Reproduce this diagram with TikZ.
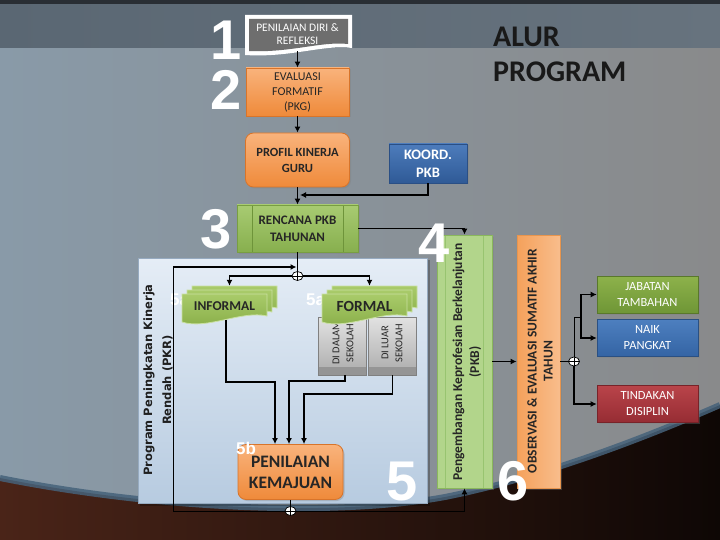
\documentclass[tikz,border=0pt]{standalone}
\usepackage{fontspec}
\setmainfont{Carlito}
\newfontfamily\djvfont{DejaVu Sans}
\newfontfamily\numfont{Liberation Sans}
\usetikzlibrary{arrows.meta,calc,shapes.geometric,shadows}
\definecolor{txtd}{HTML}{262626}
\definecolor{orA}{HTML}{F9B37C}
\definecolor{orB}{HTML}{EF8A3A}
\definecolor{orC}{HTML}{D8742A}
\definecolor{blA}{HTML}{4D7CBC}
\definecolor{blB}{HTML}{2F5A96}
\definecolor{blC}{HTML}{2A4F85}
\definecolor{gnA}{HTML}{A8CB72}
\definecolor{gnB}{HTML}{87AF4E}
\definecolor{gnC}{HTML}{789E42}
\definecolor{gnL}{HTML}{6E943A}
\definecolor{jabA}{HTML}{8DB24B}
\definecolor{jabB}{HTML}{6F9636}
\definecolor{nkA}{HTML}{4D7FBF}
\definecolor{nkB}{HTML}{3464A4}
\definecolor{tdA}{HTML}{B9444A}
\definecolor{tdB}{HTML}{962C33}
\definecolor{pkbF}{HTML}{B2D58B}
\definecolor{pkbD}{HTML}{8AB85C}
\definecolor{pkbL}{HTML}{98C470}
\definecolor{obA}{HTML}{F5A15B}
\definecolor{obB}{HTML}{F8BD8C}
\definecolor{obC}{HTML}{E8954E}
\definecolor{dcT}{HTML}{A9CB6A}
\definecolor{dcB}{HTML}{86AC46}
\definecolor{dcE}{HTML}{C9E0A0}
\definecolor{gyT}{HTML}{E2E2E2}
\definecolor{gyB}{HTML}{ABABAB}
\definecolor{gyE}{HTML}{808080}
\definecolor{gyBand}{HTML}{959595}
\definecolor{pdF}{HTML}{6E6E6E}
\definecolor{pkrT}{HTML}{E5EDF6}
\definecolor{pkrB}{HTML}{B7CBE0}
\definecolor{pkrE}{HTML}{96AAC0}
\definecolor{bgL}{HTML}{899AA8}
\definecolor{bgM}{HTML}{AAB9C5}
\definecolor{bgR}{HTML}{898A8B}
\definecolor{topA}{HTML}{5A6773}
\definecolor{topB}{HTML}{67737E}
\definecolor{brL}{HTML}{4A2418}
\definecolor{brM}{HTML}{8E4C38}
\definecolor{brR}{HTML}{0E0705}
\definecolor{edgeB}{HTML}{46627A}
\begin{document}
\begin{tikzpicture}[x=1pt,y=-1pt,
  arr/.style={line width=1.6pt,-{Latex[length=6pt,width=6pt]}},
  ln/.style={line width=1.6pt},
  tarr/.style={line width=1pt,-{Latex[length=6pt,width=6pt]}},
  tln/.style={line width=1pt},
  shd/.style={drop shadow={shadow xshift=1.5pt,shadow yshift=-1.5pt,opacity=0.35}},
  box/.style={rectangle, inner sep=1pt, align=center, text=txtd},
  orng/.style={box, shd, top color=orA, bottom color=orB, draw=orC, line width=0.8pt},
  grn/.style={box, shd, top color=gnA, bottom color=gnB, draw=gnC, line width=0.8pt},
  colbox/.style={box, shd, text=white, minimum width=101pt, minimum height=37pt, font=\fontsize{12.5}{16}\selectfont},
  gray/.style={rectangle, top color=gyT, bottom color=gyB, draw=gyE, line width=0.6pt, minimum width=48pt, minimum height=58pt,
     path picture={\fill[gyBand] ($(path picture bounding box.south west)+(0,-8)$) rectangle (path picture bounding box.south east);}},
  junc/.style={ellipse, draw=black, fill=white, line width=0.7pt, minimum width=11pt, minimum height=9pt, inner sep=0pt,
     path picture={\draw[line width=0.7pt] (path picture bounding box.north) -- (path picture bounding box.south) (path picture bounding box.west) -- (path picture bounding box.east);}},
  num/.style={text=white, inner sep=0pt, anchor=base, text height=40pt, text depth=0pt, font=\numfont\bfseries\fontsize{56}{56}\selectfont},
  lbl/.style={text=white, inner sep=0pt, anchor=base west, text height=12pt, text depth=0pt, font=\numfont\bfseries\fontsize{17}{17}\selectfont},
  docst/.style={draw=dcE, line width=0.8pt, top color=dcT, bottom color=dcB},
  mdoc/.pic={\foreach \myoff in {10,5,0}{\path[docst] (\myoff,-0.8*\myoff) -- ++(85,0) -- ++(0,22) .. controls +(-25,-6) and +(25,8) .. ++(-85,6) -- cycle;}},
]
\useasboundingbox (0,0) rectangle (720,540);
% background
\shade[left color=bgL, middle color=bgM, right color=bgR] (0,0) rectangle (720,540);
\shade[left color=topA, right color=topB] (0,0) rectangle (720,48);
\fill[black!55!topA] (0,0) rectangle (720,4);
\shade[left color=brL, middle color=brM, right color=brR] (0,478) .. controls (150,508) and (330,518) .. (445,497) .. controls (540,478) and (640,440) .. (720,405) -- (720,540) -- (0,540) -- cycle;
\draw[edgeB, line width=6pt, opacity=0.85] (0,478) .. controls (150,508) and (330,518) .. (445,497) .. controls (540,478) and (640,440) .. (720,405);

% title
\node[anchor=north west, inner sep=0pt, align=left, text=black!90, font=\bfseries\fontsize{30}{35}\selectfont] (title) at (493,27) {ALUR\\PROGRAM};

% PKR region
\fill[black, opacity=0.25] (140,260) rectangle (430,506);
\shade[top color=pkrT, bottom color=pkrB] (138,258) rectangle (427,503);
\draw[pkrE, line width=0.8pt] (138,258) rectangle (427,503);
\node[rotate=90, align=center, text=black!88, font=\djvfont\bfseries\fontsize{11.5}{19}\selectfont] (pkrlabel) at (158,380) {Program Peningkatan Kinerja\\Rendah (PKR)};

% step 1 document
\fill[white] (245,15) -- (352,15) -- (352,48) .. controls (325,44) and (290,58) .. (245,55) -- cycle;
\fill[pdF] (249,19) -- (348,19) -- (348,44) .. controls (322,41) and (290,53) .. (249,51) -- cycle;
\node[box, text=white, font=\fontsize{11.5}{13.5}\selectfont, minimum width=100pt, minimum height=34pt] (pd) at (297.5,34) {PENILAIAN DIRI \&\\REFLEKSI};

\node[orng, minimum width=103pt, minimum height=48pt, font=\fontsize{12}{15}\selectfont] (ef) at (297.5,92) {EVALUASI\\FORMATIF\\(PKG)};
\node[orng, rounded corners=8pt, minimum width=104pt, minimum height=54pt, font=\bfseries\fontsize{12.5}{16}\selectfont] (pk) at (297.5,160) {PROFIL KINERJA\\GURU};
\node[box, shd, top color=blA, bottom color=blB, draw=blC, line width=0.8pt, text=white, minimum width=78pt, minimum height=39pt, font=\bfseries\fontsize{14.5}{18}\selectfont] (koord) at (428,163.5) {KOORD.\\PKB};
\node[grn, minimum width=121pt, minimum height=47pt, font=\bfseries\fontsize{13}{17}\selectfont,
  path picture={\draw[gnL, line width=0.8pt] ($(path picture bounding box.north west)+(15,0)$) -- ($(path picture bounding box.south west)+(15,0)$) ($(path picture bounding box.north east)+(-15,0)$) -- ($(path picture bounding box.south east)+(-15,0)$);}] (rp) at (297.5,228.5) {RENCANA PKB\\TAHUNAN};

% labels 5a behind documents
\node[lbl] (l5a) at (170,305) {5a};
\node[lbl] (l5c) at (306,305) {5a};

% DI DALAM / DI LUAR
\node[gray] (dd) at (342,346) {};
\node[gray] (dl) at (392.5,346) {};
\node[rotate=90, align=center, text=txtd, font=\fontsize{10.5}{14}\selectfont] (ddt) at (343,343) {DI DALAM\\SEKOLAH};
\node[rotate=90, align=center, text=txtd, font=\fontsize{10.5}{14}\selectfont] (dlt) at (392,343) {DI LUAR\\SEKOLAH};

% multi documents
\pic at (182,294) {mdoc};
\pic at (322,294) {mdoc};
\node[box, minimum width=85pt, minimum height=24pt, font=\bfseries\fontsize{13.5}{15}\selectfont] (inf) at (224.5,306) {INFORMAL};
\node[box, minimum width=85pt, minimum height=24pt, font=\bfseries\fontsize{15.5}{17}\selectfont] (frm) at (364.5,306) {FORMAL};

\node[orng, rounded corners=8pt, minimum width=105pt, minimum height=55pt, font=\bfseries\fontsize{17.5}{21}\selectfont] (pkm) at (290.5,472) {PENILAIAN\\KEMAJUAN};
\node[lbl] (l5b) at (236,454) {5b};

% PKB and observation
\node[rectangle, shd, fill=pkbF, draw=pkbD, line width=0.8pt, minimum width=55pt, minimum height=253pt,
  path picture={\draw[pkbL, line width=1pt] ($(path picture bounding box.north west)+(8,0)$) -- ($(path picture bounding box.south west)+(8,0)$) ($(path picture bounding box.north east)+(-9,0)$) -- ($(path picture bounding box.south east)+(-9,0)$);}] (pkb) at (464.5,361.5) {};
\node[rotate=90, align=center, text=txtd, font=\bfseries\fontsize{13.5}{17}\selectfont] (pkbt) at (467,362) {Pengembangan Keprofesian Berkelanjutan\\(PKB)};
\node[rectangle, shd, left color=obA, right color=obB, draw=obC, line width=0.8pt, minimum width=43pt, minimum height=253pt] (obs) at (538.5,361.5) {};
\node[rotate=90, align=center, text=txtd, font=\bfseries\fontsize{13.5}{16}\selectfont] (obst) at (540,361) {OBSERVASI \& EVALUASI SUMATIF AKHIR\\TAHUN};

% outcome boxes
\node[colbox, top color=jabA, bottom color=jabB, draw=jabB!80!black, line width=0.6pt] (jab) at (647.5,294.5) {JABATAN\\TAMBAHAN};
\node[colbox, top color=nkA, bottom color=nkB, draw=nkB!80!black, line width=0.6pt] (naik) at (647.5,338) {NAIK\\PANGKAT};
\node[colbox, top color=tdA, bottom color=tdB, draw=tdB!80!black, line width=0.6pt] (tin) at (647.5,404) {TINDAKAN\\DISIPLIN};

% junctions and helper coordinates
\node[junc] (j1) at (297.5,276) {};
\node[junc] (j2) at (290.5,511) {};
\node[junc] (j3) at (574,361.5) {};
\coordinate (kj) at (300,195);
\coordinate (lpA) at (173,267);
\coordinate (lpB) at (296.5,267);
\coordinate (infb) at (226,320);
\coordinate (a1) at (275,382);
\coordinate (a2) at (289,381);
\coordinate (a3) at (304,394);
\coordinate (b1) at (574,317);
\coordinate (b2) at (581,317);

% connectors
\draw[arr] (pd.south) -- (ef.north);
\draw[arr] (ef) -- (pk);
\draw[arr] (pk) -- (rp);
\draw[arr] (koord.south) |- (kj);
\draw[arr] (rp.east) -| (pkb.north);
\draw[ln] (rp.south) -- (j1);
\draw[arr] (j1) -| ($(inf.north)+(5,-8)$);
\draw[arr] (j1) -| ($(frm.north)+(5,-8)$);
\draw[arr] (infb) |- (a1) -- (a1 |- pkm.north);
\draw[arr] ($(dd.south)+(3,0)$) |- (a2) -- (a2 |- pkm.north);
\draw[arr] (dl.south) |- (a3) -- (a3 |- pkm.north);
\draw[ln] (pkm) -- (j2);
\draw[tln] (j2) -| (lpA);
\draw[arr] (lpA) -- (lpB);
\draw[tarr] (j2) -| (pkb.south);
\draw[arr] (pkb.east) -- (obs.west);
\draw[tln] (obs.east) -- (j3);
\draw[tln] (j3) -- (b1) -- (b2);
\draw[arr] (b2) |- (jab.west);
\draw[arr] (b2) |- (naik.west);
\draw[arr] (j3) |- (tin.west);

% big numbers
\node[num] (n1) at (226,60) {1};
\node[num] (n2) at (226,110) {2};
\node[num] (n3) at (216,248) {3};
\node[num] (n4) at (434,262) {4};
\node[num] (n5) at (402,500) {5};
\node[num] (n6) at (513,500) {6};
\end{tikzpicture}
\end{document}
